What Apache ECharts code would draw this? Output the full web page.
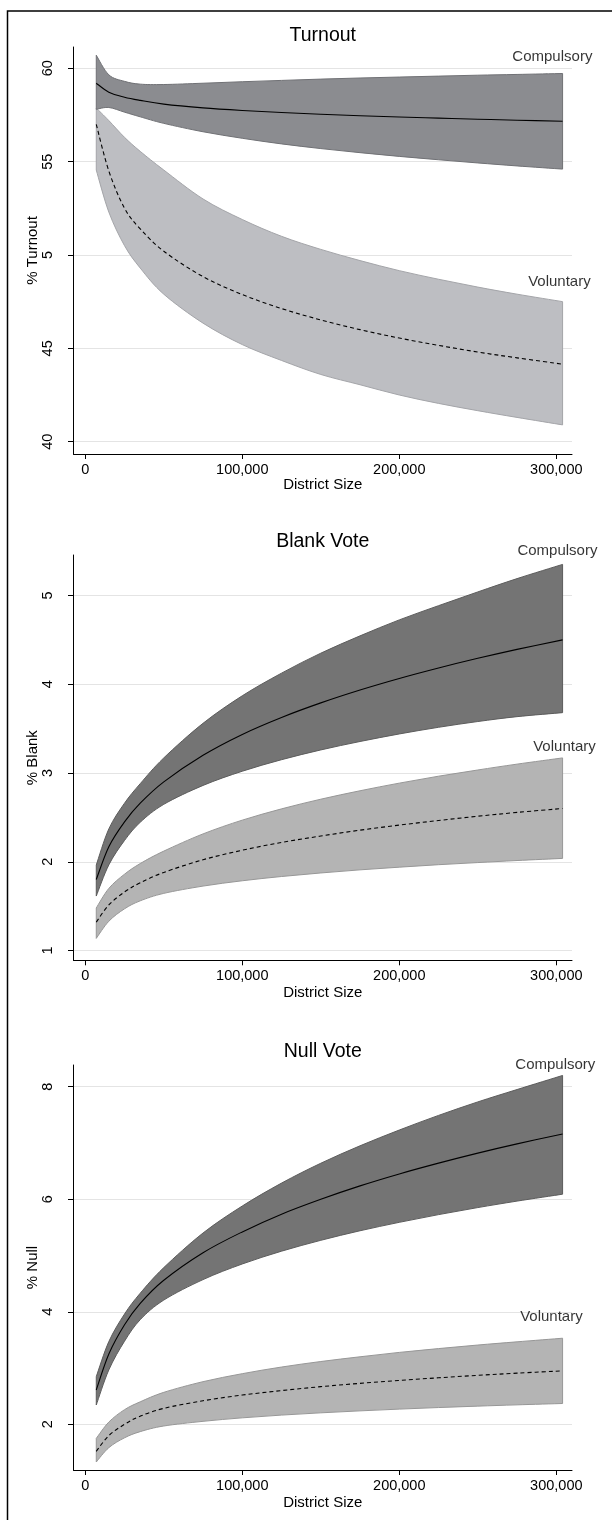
<!DOCTYPE html>
<html>
<head>
<meta charset="utf-8">
<script src="https://cdn.jsdelivr.net/npm/echarts@6/dist/echarts.min.js"></script>
<style>
  html, body { margin: 0; padding: 0; background: #fff; }
  #chart { width: 612px; height: 1520px; }
</style>
</head>
<body>
<div id="chart"></div>
<script>
// District sizes at which predictions are plotted
const districtSize = [7000, 15000, 25000, 35000, 50000, 75000, 100000, 125000, 150000, 175000, 200000, 225000, 250000, 275000, 304000];

// Turnout (%)
const turnoutCompMean  = [59.2, 58.72, 58.45, 58.28, 58.08, 57.88, 57.74, 57.63, 57.54, 57.46, 57.39, 57.33, 57.27, 57.22, 57.16];
const turnoutCompUpper = [60.7, 59.65, 59.3, 59.15, 59.13, 59.2, 59.28, 59.35, 59.42, 59.48, 59.53, 59.58, 59.63, 59.67, 59.72];
const turnoutCompLower = [57.8, 57.9, 57.65, 57.4, 57.05, 56.6, 56.25, 55.95, 55.7, 55.48, 55.28, 55.1, 54.93, 54.77, 54.6];
const turnoutVolMean   = [57.0, 54.5, 52.5, 51.4, 50.2, 48.84, 47.88, 47.13, 46.52, 46.0, 45.55, 45.16, 44.8, 44.49, 44.15];
const turnoutVolUpper  = [57.87, 57.2, 56.3, 55.55, 54.55, 53.0, 51.9, 51.0, 50.3, 49.7, 49.16, 48.7, 48.28, 47.9, 47.5];
const turnoutVolLower  = [54.55, 52.3, 50.5, 49.3, 47.9, 46.35, 45.2, 44.35, 43.6, 43.05, 42.5, 42.05, 41.66, 41.3, 40.9];

// Blank vote (%)
const blankCompMean  = [1.8, 2.17, 2.45, 2.66, 2.9, 3.2, 3.435, 3.626, 3.79, 3.935, 4.065, 4.183, 4.292, 4.393, 4.5];
const blankCompUpper = [1.963, 2.37, 2.66, 2.88, 3.17, 3.56, 3.87, 4.125, 4.35, 4.545, 4.725, 4.885, 5.04, 5.19, 5.35];
const blankCompLower = [1.614, 1.965, 2.24, 2.445, 2.647, 2.86, 3.02, 3.15, 3.26, 3.355, 3.44, 3.515, 3.58, 3.635, 3.68];
const blankVolMean   = [1.32, 1.514, 1.66, 1.764, 1.88, 2.023, 2.13, 2.218, 2.29, 2.356, 2.413, 2.465, 2.513, 2.556, 2.6];
const blankVolUpper  = [1.48, 1.70, 1.86, 1.98, 2.12, 2.314, 2.469, 2.596, 2.705, 2.8, 2.886, 2.964, 3.034, 3.1, 3.17];
const blankVolLower  = [1.137, 1.33, 1.47, 1.56, 1.644, 1.726, 1.786, 1.834, 1.874, 1.909, 1.939, 1.967, 1.991, 2.014, 2.038];

// Null vote (%)
const nullCompMean  = [2.61, 3.25, 3.77, 4.15, 4.56, 5.05, 5.42, 5.735, 6.0, 6.238, 6.45, 6.642, 6.82, 6.984, 7.16];
const nullCompUpper = [2.846, 3.47, 3.96, 4.33, 4.785, 5.4, 5.88, 6.287, 6.64, 6.95, 7.23, 7.49, 7.73, 7.95, 8.2];
const nullCompLower = [2.343, 2.967, 3.477, 3.86, 4.208, 4.572, 4.85, 5.077, 5.27, 5.44, 5.59, 5.727, 5.852, 5.967, 6.09];
const nullVolMean   = [1.52, 1.8, 2.0, 2.145, 2.284, 2.419, 2.52, 2.6, 2.669, 2.728, 2.78, 2.827, 2.87, 2.909, 2.95];
const nullVolUpper  = [1.75, 2.04, 2.26, 2.4, 2.568, 2.758, 2.9, 3.018, 3.116, 3.2, 3.278, 3.346, 3.409, 3.466, 3.53];
const nullVolLower  = [1.33, 1.585, 1.76, 1.87, 1.97, 2.053, 2.115, 2.164, 2.204, 2.239, 2.27, 2.298, 2.323, 2.346, 2.37];

// Axis ticks and their labels
const xTicks = [0, 100000, 200000, 300000];
const xTickLabels = ['0', '100,000', '200,000', '300,000'];
const turnoutTicks = [40, 45, 50, 55, 60];
const turnoutTickLabels = ['40', '45', '5', '55', '60'];
const blankTicks = [1, 2, 3, 4, 5];
const blankTickLabels = ['1', '2', '3', '4', '5'];
const nullTicks = [2, 4, 6, 8];
const nullTickLabels = ['2', '4', '6', '8'];

const panelTitles = ['Turnout', 'Blank Vote', 'Null Vote'];
const yTitles = ['% Turnout', '% Blank', '% Null'];
const groupNames = ['Compulsory', 'Voluntary'];

// Where the group names sit, in data units of each panel
const groupLabelAt = [
  [[297500, 60.62], [302000, 48.55]],
  [[300700, 5.505], [305200, 3.293]],
  [[299400, 8.386], [296900, 3.913]]
];

const FONT = 'Liberation Sans, Arial, Helvetica, sans-serif';

const panels = [
  { top: 47,   height: 407,   yMin: 39.34, yMax: 61.14, ticks: turnoutTicks, tickLabels: turnoutTickLabels,
    comp: [turnoutCompMean, turnoutCompUpper, turnoutCompLower], vol: [turnoutVolMean, turnoutVolUpper, turnoutVolLower],
    compFill: '#8b8c90', compEdge: '#707175', volFill: '#bdbec2', volEdge: '#a4a5a9', titleTop: 26, xNameGap: 23.5 },
  { top: 555,  height: 405.3, yMin: 0.89, yMax: 5.456, ticks: blankTicks, tickLabels: blankTickLabels,
    comp: [blankCompMean, blankCompUpper, blankCompLower], vol: [blankVolMean, blankVolUpper, blankVolLower],
    compFill: '#747474', compEdge: '#5c5c5c', volFill: '#b4b4b4', volEdge: '#979797', titleTop: 532, xNameGap: 25.5 },
  { top: 1065, height: 405,   yMin: 1.188, yMax: 8.386, ticks: nullTicks, tickLabels: nullTickLabels,
    comp: [nullCompMean, nullCompUpper, nullCompLower], vol: [nullVolMean, nullVolUpper, nullVolLower],
    compFill: '#747474', compEdge: '#5c5c5c', volFill: '#b4b4b4', volEdge: '#979797', titleTop: 1042, xNameGap: 25.5 }
];

const gridLeft = 73.5;
const gridWidth = 498.5;

// Catmull-Rom curve through pixel points, as cubic bezier path commands
function curveThrough(pts, start) {
  let d = (start ? 'M' : 'L') + pts[0][0] + ' ' + pts[0][1];
  const n = pts.length;
  for (let i = 0; i < n - 1; i++) {
    const p0 = pts[Math.max(i - 1, 0)], p1 = pts[i], p2 = pts[i + 1], p3 = pts[Math.min(i + 2, n - 1)];
    const c1x = p1[0] + (p2[0] - p0[0]) / 6, c1y = p1[1] + (p2[1] - p0[1]) / 6;
    const c2x = p2[0] - (p3[0] - p1[0]) / 6, c2y = p2[1] - (p3[1] - p1[1]) / 6;
    d += ' C' + c1x + ' ' + c1y + ' ' + c2x + ' ' + c2y + ' ' + p2[0] + ' ' + p2[1];
  }
  return d;
}

function bandShape(api, hi, lo, fill, edge) {
  const top = districtSize.map((x, i) => api.coord([x, hi[i]]));
  const bottom = districtSize.map((x, i) => api.coord([x, lo[i]])).reverse();
  return {
    type: 'path',
    shape: { pathData: curveThrough(top, true) + ' ' + curveThrough(bottom, false) + ' Z' },
    style: { fill: fill, stroke: edge, lineWidth: 1 }
  };
}

function lineShape(api, ys, dash) {
  const pts = districtSize.map((x, i) => api.coord([x, ys[i]]));
  return {
    type: 'path',
    shape: { pathData: curveThrough(pts, true) },
    style: { fill: null, stroke: '#000', lineWidth: 1.1, lineDash: dash || null }
  };
}

const grids = [], xAxes = [], yAxes = [], series = [], titles = [];

panels.forEach((p, k) => {
  grids.push({ left: gridLeft, width: gridWidth, top: p.top, height: p.height });
  titles.push({
    text: panelTitles[k], left: gridLeft + gridWidth / 2, top: p.titleTop, textAlign: 'center', padding: 0,
    textStyle: { fontFamily: FONT, fontSize: 19.5, fontWeight: 'normal', color: '#000' }
  });
  xAxes.push({
    gridIndex: k, type: 'value', min: -7500, max: 310000,
    name: 'District Size', nameLocation: 'middle', nameGap: p.xNameGap, nameMoveOverlap: false,
    nameTextStyle: { fontFamily: FONT, fontSize: 15, color: '#000' },
    axisLine: { show: true, onZero: false, lineStyle: { color: '#000', width: 1 } },
    axisTick: { show: true, length: 5, customValues: xTicks, lineStyle: { color: '#000', width: 1 } },
    axisLabel: { customValues: xTicks, margin: 8, fontFamily: FONT, fontSize: 14.5, color: '#000',
      formatter: (v) => xTickLabels[xTicks.indexOf(v)] },
    splitLine: { show: false }
  });
  yAxes.push({
    gridIndex: k, type: 'value', min: p.yMin, max: p.yMax,
    name: yTitles[k], nameLocation: 'middle', nameGap: 33, nameRotate: 90, nameMoveOverlap: false,
    nameTextStyle: { fontFamily: FONT, fontSize: 15, color: '#000' },
    axisLine: { show: true, onZero: false, lineStyle: { color: '#000', width: 1 } },
    axisTick: { show: true, length: 5.5, customValues: p.ticks, lineStyle: { color: '#000', width: 1 } },
    axisLabel: { customValues: p.ticks, rotate: 90, margin: 18, fontFamily: FONT, fontSize: 14.5, color: '#000',
      formatter: (v) => p.tickLabels[p.ticks.indexOf(v)] },
    splitLine: { show: true, lineStyle: { color: '#e4e4e4', width: 1 } }
  });

  // Confidence bands and predicted values, voluntary beneath compulsory
  series.push({
    type: 'custom', xAxisIndex: k, yAxisIndex: k, silent: true, animation: false, z: 3,
    data: [[districtSize[0], p.comp[1][0]]],
    renderItem: (params, api) => ({
      type: 'group',
      children: [
        bandShape(api, p.vol[1], p.vol[2], p.volFill, p.volEdge),
        bandShape(api, p.comp[1], p.comp[2], p.compFill, p.compEdge),
        lineShape(api, p.vol[0], [4, 3]),
        lineShape(api, p.comp[0], null)
      ]
    })
  });
  // Group names
  series.push({
    type: 'scatter', xAxisIndex: k, yAxisIndex: k, clip: false, silent: true, animation: false,
    symbolSize: 1, itemStyle: { color: 'transparent' }, z: 6,
    data: groupLabelAt[k].map((pos, j) => ({ value: pos, name: groupNames[j] })),
    label: { show: true, position: 'inside', formatter: (d) => d.name,
      fontFamily: FONT, fontSize: 15, color: '#000' }
  });
});

const chart = echarts.init(document.getElementById('chart'), null, { renderer: 'canvas' });
chart.setOption({
  backgroundColor: '#fff',
  animation: false,
  title: titles,
  grid: grids,
  xAxis: xAxes,
  yAxis: yAxes,
  series: series,
  graphic: [{
    type: 'rect', silent: true, z: 100,
    shape: { x: 7.5, y: 11, width: 900, height: 1700 },
    style: { fill: 'none', stroke: '#000', lineWidth: 1.5 }
  }]
});
</script>
</body>
</html>
